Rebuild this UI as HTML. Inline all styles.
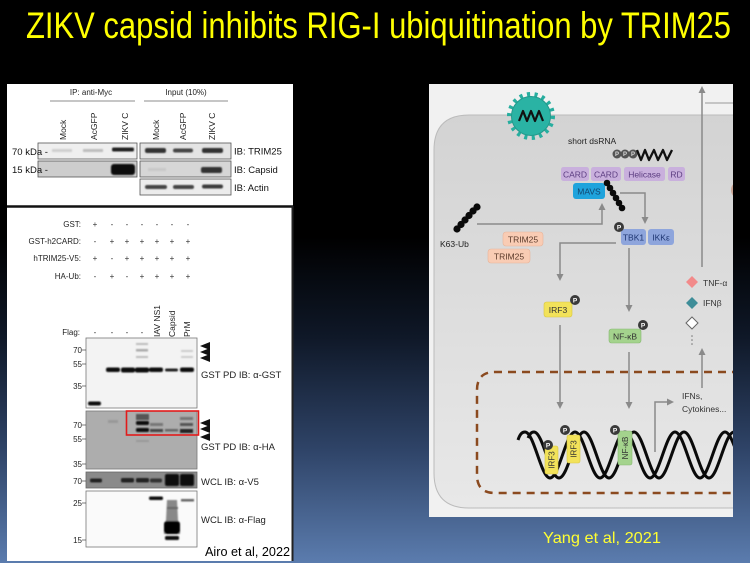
<!DOCTYPE html>
<html><head><meta charset="utf-8"><style>
html,body{margin:0;padding:0;background:#000;}
svg{display:block}
text{font-family:"Liberation Sans",sans-serif;}
</style></head><body>
<svg width="750" height="563" viewBox="0 0 750 563" xmlns="http://www.w3.org/2000/svg">
<defs>
<linearGradient id="bg" x1="0" y1="0" x2="0" y2="1">
<stop offset="0" stop-color="#000"/>
<stop offset="0.42" stop-color="#000"/>
<stop offset="0.6" stop-color="#0f1828"/>
<stop offset="0.8" stop-color="#2f4468"/>
<stop offset="1" stop-color="#5b7cae"/>
</linearGradient>
<linearGradient id="cell" x1="0" y1="0" x2="0" y2="1">
<stop offset="0" stop-color="#d3d3d3"/>
<stop offset="1" stop-color="#e8e8e8"/>
</linearGradient>
<filter id="bl" x="-20%" y="-50%" width="140%" height="200%"><feGaussianBlur stdDeviation="0.7"/></filter>
<clipPath id="rc"><rect x="429" y="84" width="304" height="433"/></clipPath>
</defs>

<rect x="0" y="0" width="750" height="563" fill="url(#bg)"/>

<text x="26" y="38" font-size="37" fill="#ffff00" textLength="705" lengthAdjust="spacingAndGlyphs">ZIKV capsid inhibits RIG-I ubiquitination by TRIM25</text>

<!-- LEFT PANEL -->
<rect x="7" y="84" width="286" height="477" fill="#fff"/>
<line x1="7" y1="206.5" x2="293" y2="206.5" stroke="#111" stroke-width="2.5"/>
<line x1="292.5" y1="206" x2="292.5" y2="561" stroke="#222" stroke-width="2"/>

<g font-size="8" fill="#222">
<text x="91" y="95" text-anchor="middle">IP: anti-Myc</text>
<text x="186" y="95" text-anchor="middle">Input (10%)</text>
</g>
<line x1="50" y1="101" x2="135" y2="101" stroke="#666" stroke-width="0.8"/>
<line x1="144" y1="101" x2="228" y2="101" stroke="#666" stroke-width="0.8"/>
<g font-size="8.5" fill="#222">
<text transform="translate(66,140) rotate(-90)">Mock</text>
<text transform="translate(97,140) rotate(-90)">AcGFP</text>
<text transform="translate(128,140) rotate(-90)">ZIKV C</text>
<text transform="translate(159,140) rotate(-90)">Mock</text>
<text transform="translate(186,140) rotate(-90)">AcGFP</text>
<text transform="translate(215,140) rotate(-90)">ZIKV C</text>
</g>
<rect x="38" y="143" width="99" height="16" fill="#efefef" stroke="#555" stroke-width="0.8"/>
<rect x="38" y="161" width="99" height="16" fill="#cdcdcd" stroke="#555" stroke-width="0.8"/>
<rect x="140" y="143" width="91" height="16" fill="#e4e4e4" stroke="#555" stroke-width="0.8"/>
<rect x="140" y="161" width="91" height="16" fill="#d6d6d6" stroke="#555" stroke-width="0.8"/>
<rect x="140" y="179" width="91" height="16" fill="#ececec" stroke="#555" stroke-width="0.8"/>
<g filter="url(#bl)">
<rect x="52" y="149" width="20" height="3" fill="#cfcfcf"/>
<rect x="83" y="149" width="20" height="3" fill="#bdbdbd"/>
<rect x="112" y="147.5" width="22" height="4" rx="1.5" fill="#222"/>
<rect x="145" y="148" width="21" height="5" rx="2" fill="#333"/>
<rect x="173" y="148.5" width="20" height="4" rx="2" fill="#444"/>
<rect x="202" y="148" width="21" height="5" rx="2" fill="#333"/>
<rect x="111" y="164" width="24" height="11" rx="3" fill="#080808"/>
<rect x="201" y="167" width="21" height="6" rx="2" fill="#333"/>
<rect x="148" y="168" width="18" height="3" fill="#c8c8c8"/>
<rect x="145" y="185" width="22" height="4" rx="2" fill="#444"/>
<rect x="173" y="185" width="21" height="4" rx="2" fill="#444"/>
<rect x="202" y="184.5" width="21" height="4" rx="2" fill="#3a3a3a"/>
</g>
<g font-size="9.5" fill="#111">
<text x="234" y="154.5">IB: TRIM25</text>
<text x="234" y="173">IB: Capsid</text>
<text x="234" y="191">IB: Actin</text>
<text x="12" y="155">70 kDa -</text>
<text x="12" y="173">15 kDa -</text>
</g>

<!-- middle table -->
<g font-size="8" fill="#222">
<text x="81" y="227" text-anchor="end">GST:</text>
<text x="81" y="244" text-anchor="end">GST-h2CARD:</text>
<text x="81" y="261" text-anchor="end">hTRIM25-V5:</text>
<text x="81" y="279" text-anchor="end">HA-Ub:</text>
<text x="80" y="335" text-anchor="end">Flag:</text>
</g>
<g font-size="8" fill="#333" text-anchor="middle">
<text x="95" y="227">+</text><text x="112" y="227">-</text><text x="127" y="227">-</text><text x="142" y="227">-</text><text x="157" y="227">-</text><text x="172" y="227">-</text><text x="188" y="227">-</text>
<text x="95" y="244">-</text><text x="112" y="244">+</text><text x="127" y="244">+</text><text x="142" y="244">+</text><text x="157" y="244">+</text><text x="172" y="244">+</text><text x="188" y="244">+</text>
<text x="95" y="261">+</text><text x="112" y="261">-</text><text x="127" y="261">+</text><text x="142" y="261">+</text><text x="157" y="261">+</text><text x="172" y="261">+</text><text x="188" y="261">+</text>
<text x="95" y="279">-</text><text x="112" y="279">+</text><text x="127" y="279">-</text><text x="142" y="279">+</text><text x="157" y="279">+</text><text x="172" y="279">+</text><text x="188" y="279">+</text>
<text x="95" y="335">-</text><text x="112" y="335">-</text><text x="127" y="335">-</text><text x="142" y="335">-</text>
</g>
<g font-size="8.5" fill="#222">
<text transform="translate(160,337) rotate(-90)">IAV NS1</text>
<text transform="translate(175,337) rotate(-90)">Capsid</text>
<text transform="translate(190,337) rotate(-90)">PrM</text>
</g>

<!-- lower blots -->
<rect x="86" y="338" width="111" height="70" fill="#f3f3f3" stroke="#777" stroke-width="0.8"/>
<rect x="86" y="411" width="111" height="58" fill="#adadad" stroke="#777" stroke-width="0.8"/>
<rect x="86" y="472" width="111" height="16" fill="#8a8a8a" stroke="#666" stroke-width="0.8"/>
<rect x="86" y="491" width="111" height="56" fill="#fafafa" stroke="#777" stroke-width="0.8"/>
<g filter="url(#bl)">
<rect x="106" y="367.5" width="14" height="4.5" rx="2" fill="#111"/>
<rect x="121" y="367.5" width="14" height="5" rx="2" fill="#111"/>
<rect x="135" y="367.5" width="14" height="5" rx="2" fill="#111"/>
<rect x="149" y="367.5" width="14" height="4.5" rx="2" fill="#111"/>
<rect x="165" y="368.5" width="13" height="3" rx="1.5" fill="#222"/>
<rect x="180" y="367.5" width="14" height="4.5" rx="2" fill="#111"/>
<rect x="88" y="401.5" width="13" height="4" rx="2" fill="#111"/>
<rect x="136" y="343" width="12" height="2" fill="#bbb"/>
<rect x="136" y="349" width="12" height="2.5" fill="#aaa"/>
<rect x="136" y="356" width="12" height="2" fill="#bbb"/>
<rect x="181" y="350" width="12" height="2" fill="#ccc"/>
<rect x="181" y="356" width="12" height="2" fill="#ccc"/>
<rect x="136" y="414" width="13" height="6" fill="#555"/>
<rect x="136" y="421" width="13" height="4" rx="1.5" fill="#111"/>
<rect x="136" y="428" width="13" height="4" rx="1.5" fill="#111"/>
<rect x="150" y="423" width="13" height="3" fill="#777"/>
<rect x="150" y="429" width="13" height="3" fill="#444"/>
<rect x="165" y="429" width="13" height="2.5" fill="#666"/>
<rect x="180" y="417" width="13" height="3" fill="#777"/>
<rect x="180" y="423" width="13" height="3" fill="#555"/>
<rect x="180" y="429" width="13" height="4" fill="#222"/>
<rect x="108" y="420" width="10" height="3" fill="#999"/>
<rect x="136" y="440" width="13" height="2" fill="#999"/>
<rect x="90" y="478.5" width="12" height="4" rx="1.5" fill="#222"/>
<rect x="121" y="478" width="13" height="4.5" rx="1.5" fill="#222"/>
<rect x="136" y="478" width="13" height="4.5" rx="1.5" fill="#222"/>
<rect x="150" y="478.5" width="12" height="4" rx="1.5" fill="#333"/>
<rect x="165" y="474" width="14" height="12" rx="2" fill="#0a0a0a"/>
<rect x="180" y="474" width="14" height="12" rx="2" fill="#111"/>
<rect x="149" y="496.5" width="14" height="3.5" rx="1.5" fill="#111"/>
<rect x="181" y="499" width="13" height="2.5" fill="#666"/>
<path d="M167,500 L177,500 L178,520 L180,526 L180,534 L164,534 L164,526 L166,520 Z" fill="#888"/>
<rect x="164" y="521" width="16" height="13" rx="3" fill="#050505"/>
<rect x="165" y="536" width="14" height="4" rx="1.5" fill="#111"/>
<rect x="167" y="507" width="11" height="2" fill="#666"/>
</g>
<rect x="126.5" y="411" width="72" height="24" fill="none" stroke="#e21b1b" stroke-width="1.6"/>
<g fill="#111">
<polygon points="200,346 210,342 210,350"/>
<polygon points="200,352 210,348 210,356"/>
<polygon points="200,358 210,354 210,362"/>
<polygon points="200,423 210,419 210,427"/>
<polygon points="200,429 210,425 210,433"/>
<polygon points="200,437 210,433 210,441"/>
</g>
<g font-size="8" fill="#222" text-anchor="end">
<text x="82" y="353">70</text><text x="82" y="367">55</text><text x="82" y="389">35</text>
<text x="82" y="428">70</text><text x="82" y="442">55</text><text x="82" y="467">35</text>
<text x="82" y="484">70</text>
<text x="82" y="506">25</text><text x="82" y="543">15</text>
</g>
<g stroke="#444" stroke-width="0.7">
<line x1="82" y1="350" x2="86" y2="350"/><line x1="82" y1="364" x2="86" y2="364"/><line x1="82" y1="386" x2="86" y2="386"/>
<line x1="82" y1="425" x2="86" y2="425"/><line x1="82" y1="439" x2="86" y2="439"/><line x1="82" y1="464" x2="86" y2="464"/>
<line x1="82" y1="481" x2="86" y2="481"/><line x1="82" y1="503" x2="86" y2="503"/><line x1="82" y1="540" x2="86" y2="540"/>
</g>
<g font-size="9.5" fill="#222">
<text x="201" y="378">GST PD  IB: α-GST</text>
<text x="201" y="450">GST PD  IB: α-HA</text>
<text x="201" y="485">WCL  IB: α-V5</text>
<text x="201" y="523">WCL  IB: α-Flag</text>
</g>
<text x="205" y="556" font-size="13" fill="#000" textLength="85" lengthAdjust="spacingAndGlyphs">Airo et al, 2022</text>

<!-- RIGHT PANEL -->
<g clip-path="url(#rc)">
<rect x="429" y="84" width="304" height="433" fill="#f1f1f1"/>
<path d="M434,150 Q434,115 469,115 L740,115 L740,508 L469,508 Q434,508 434,473 Z" fill="url(#cell)" stroke="#bbb" stroke-width="1"/>
<line x1="705" y1="103" x2="740" y2="103" stroke="#999" stroke-width="1"/>
<circle cx="740" cy="190" r="9" fill="#c9a393"/>

<circle cx="531" cy="116" r="21" fill="none" stroke="#27ae9f" stroke-width="6" stroke-dasharray="3 4.3"/>
<circle cx="531" cy="116" r="19.5" fill="#2ab3a4" stroke="#23998c" stroke-width="1"/>
<path d="M519,121 L523,111 L527,121 L531,111 L535,121 L539,111 L543,121" fill="none" stroke="#111" stroke-width="2.2" stroke-linejoin="round"/>

<text x="568" y="144" font-size="8.5" fill="#222">short dsRNA</text>
<g>
<circle cx="617" cy="154" r="4.5" fill="#555"/>
<circle cx="625" cy="154" r="4.5" fill="#555"/>
<circle cx="633" cy="154" r="4.5" fill="#555"/>
<g font-size="6" fill="#ddd" text-anchor="middle" font-weight="bold"><text x="617" y="156.2">P</text><text x="625" y="156.2">P</text><text x="633" y="156.2">P</text></g>
</g>
<path d="M637,150 L641,160 L645,150 L649,160 L654,150 L658,160 L663,150 L667,160 L672,150" fill="none" stroke="#111" stroke-width="2.3" stroke-linejoin="round"/>

<g fill="#c9b0dd">
<rect x="561" y="167" width="28" height="14" rx="2.5"/>
<rect x="591" y="167" width="30" height="14" rx="2.5"/>
<rect x="624" y="167" width="41" height="14" rx="2.5"/>
<rect x="668" y="167" width="17" height="14" rx="2.5"/>
</g>
<g font-size="8.5" fill="#5b3c80" text-anchor="middle">
<text x="575" y="177.5">CARD</text>
<text x="606" y="177.5">CARD</text>
<text x="644.5" y="177.5">Helicase</text>
<text x="676.5" y="177.5">RD</text>
</g>
<rect x="573" y="183" width="32" height="16" rx="3" fill="#1fa3dc"/>
<text x="589" y="194.5" font-size="8.5" fill="#12456e" text-anchor="middle">MAVS</text>

<g fill="none" stroke="#8a8a8a" stroke-width="1.5">
<polyline points="477,224 602,224 602,208"/>
<polyline points="620,193 645,193 645,218"/>
<polyline points="616,243 560,243 560,275"/>
<polyline points="629,248 629,306"/>
<line x1="560" y1="325" x2="560" y2="403"/>
<line x1="629" y1="352" x2="629" y2="403"/>
<polyline points="655,452 655,402 668,402"/>
<line x1="702" y1="388" x2="702" y2="354"/>
<line x1="702" y1="267" x2="702" y2="92"/>
</g>
<g fill="#8a8a8a">
<polygon points="602,203 598.5,210 605.5,210"/>
<polygon points="645,224 641.5,217 648.5,217"/>
<polygon points="560,281 556.5,274 563.5,274"/>
<polygon points="629,312 625.5,305 632.5,305"/>
<polygon points="560,409 556.5,402 563.5,402"/>
<polygon points="629,409 625.5,402 632.5,402"/>
<polygon points="674,402 667,398.5 667,405.5"/>
<polygon points="702,348 698.5,355 705.5,355"/>
<polygon points="702,86 698.5,93 705.5,93"/>
</g>

<g fill="#0a0a0a">
<circle cx="607" cy="183" r="3.3"/><circle cx="610" cy="188" r="3.3"/><circle cx="613" cy="193" r="3.3"/><circle cx="616" cy="198" r="3.3"/><circle cx="619" cy="203" r="3.3"/><circle cx="622" cy="208" r="3.3"/>
<circle cx="457" cy="229" r="3.6"/><circle cx="461" cy="224.5" r="3.6"/><circle cx="465" cy="220" r="3.6"/><circle cx="469" cy="215.5" r="3.6"/><circle cx="473" cy="211" r="3.6"/><circle cx="477" cy="207" r="3.6"/>
</g>
<text x="440" y="247" font-size="8.5" fill="#222">K63-Ub</text>

<rect x="503" y="232" width="40" height="14" rx="3" fill="#f9ccb4" stroke="#e8b49a" stroke-width="0.6"/>
<rect x="488" y="249" width="42" height="14" rx="3" fill="#f9ccb4" stroke="#e8b49a" stroke-width="0.6"/>
<g font-size="8.5" fill="#5a3a2a" text-anchor="middle"><text x="523" y="242.5">TRIM25</text><text x="509" y="259.5">TRIM25</text></g>

<rect x="621" y="229" width="25" height="16" rx="3" fill="#8ea5dc"/>
<rect x="648" y="229" width="26" height="16" rx="3" fill="#8ea5dc"/>
<g font-size="8.5" fill="#1f3672" text-anchor="middle"><text x="633.5" y="240.5">TBK1</text><text x="661" y="240.5">IKKε</text></g>

<rect x="544" y="302" width="28" height="15" rx="2.5" fill="#f2e25a" stroke="#d8c640" stroke-width="0.6"/>
<text x="558" y="313" font-size="8.5" fill="#333" text-anchor="middle">IRF3</text>
<rect x="609" y="329" width="32" height="14" rx="2.5" fill="#a4d38d" stroke="#86b870" stroke-width="0.6"/>
<text x="625" y="339.5" font-size="8.5" fill="#333" text-anchor="middle">NF-κB</text>

<path d="M740,372 H495 Q477,372 477,390 V475 Q477,493 495,493 H740" fill="none" stroke="#8b4a1f" stroke-width="2.5" stroke-dasharray="8 6"/>

<g fill="none" stroke="#0a0a0a" stroke-width="3">
<path d="M518,440 C520,434 522,432 525,432 C534,432 541,478 550,478 S566,432 575,432 S591,478 600,478 S616,432 625,432 S641,478 650,478 S666,432 675,432 S691,478 700,478 S716,432 725,432 S741,478 750,478"/>
<path d="M528,438 C530,434 531,432 534,432 C543,432 550,478 559,478 S575,432 584,432 S600,478 609,478 S625,432 634,432 S650,478 659,478 S675,432 684,432 S700,478 709,478 S725,432 734,432 S750,478 759,478"/>
</g>

<rect x="545" y="446" width="13" height="28" rx="2" fill="#f2e25a" stroke="#d8c640" stroke-width="0.6"/>
<rect x="567" y="435" width="13" height="28" rx="2" fill="#f2e25a" stroke="#d8c640" stroke-width="0.6"/>
<rect x="618" y="431" width="14" height="34" rx="2" fill="#a4d38d" stroke="#86b870" stroke-width="0.6"/>
<g font-size="8" fill="#333" text-anchor="middle">
<text transform="translate(554.5,460) rotate(-90)">IRF3</text>
<text transform="translate(576.5,449) rotate(-90)">IRF3</text>
<text transform="translate(628,448) rotate(-90)">NF-κB</text>
</g>

<g fill="#3a3a3a">
<circle cx="575" cy="300" r="5"/><circle cx="643" cy="325" r="5"/><circle cx="619" cy="227" r="5"/>
<circle cx="548" cy="445" r="5"/><circle cx="565" cy="430" r="5"/><circle cx="615" cy="430" r="5"/>
</g>
<g font-size="6.5" fill="#fff" text-anchor="middle" font-weight="bold">
<text x="575" y="302.4">P</text><text x="643" y="327.4">P</text><text x="619" y="229.4">P</text>
<text x="548" y="447.4">P</text><text x="565" y="432.4">P</text><text x="615" y="432.4">P</text>
</g>

<g font-size="8.5" fill="#333">
<text x="682" y="399">IFNs,</text>
<text x="682" y="412">Cytokines...</text>
<text x="703" y="286">TNF-α</text>
<text x="703" y="306">IFNβ</text>
</g>
<polygon points="692,276 698,282 692,288 686,282" fill="#f28a8a"/>
<polygon points="692,297 698,303 692,309 686,303" fill="#3e8d98"/>
<polygon points="692,317 698,323 692,329 686,323" fill="#fff" stroke="#666" stroke-width="1"/>
<g fill="#777"><circle cx="692" cy="336" r="0.8"/><circle cx="692" cy="340" r="0.8"/><circle cx="692" cy="344" r="0.8"/></g>
</g>

<text x="543" y="543" font-size="16" fill="#ffff33" textLength="118" lengthAdjust="spacingAndGlyphs">Yang et al, 2021</text>
</svg>
</body></html>
